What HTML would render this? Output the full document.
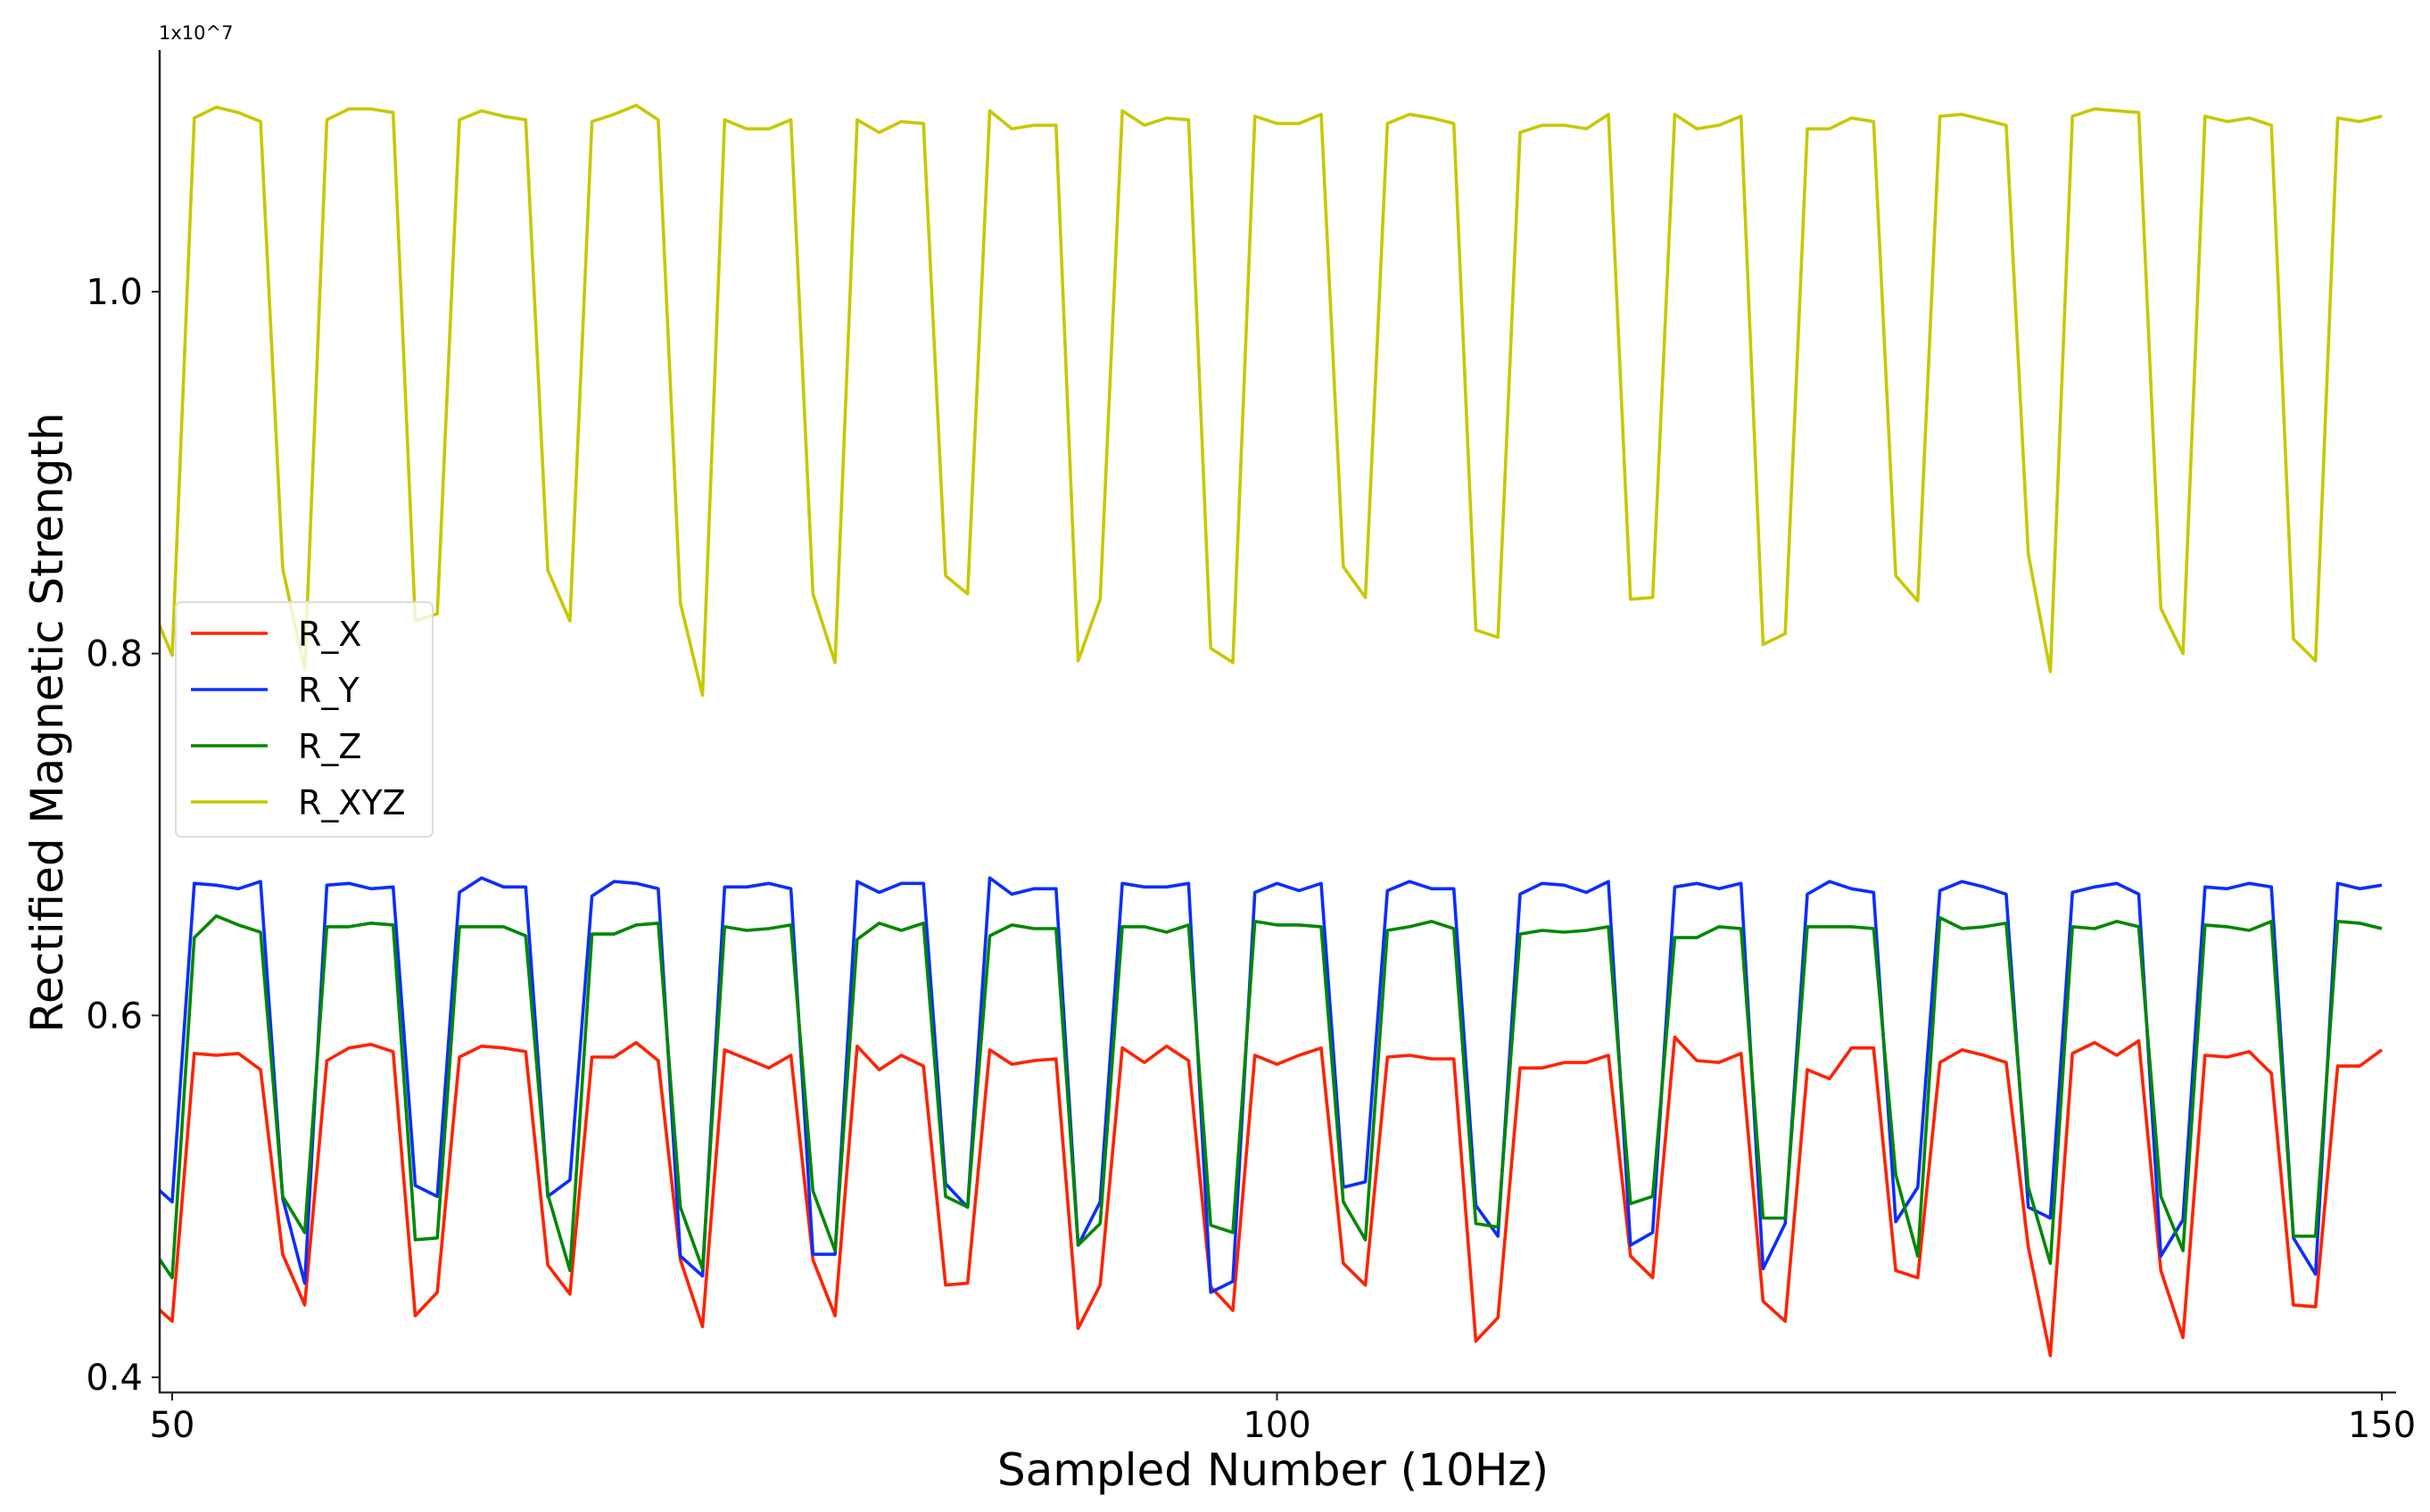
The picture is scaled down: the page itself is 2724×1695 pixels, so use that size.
<!DOCTYPE html>
<html><head><meta charset="utf-8"><style>
html,body{margin:0;padding:0;background:#fff;}
svg{display:block;font-family:"DejaVu Sans","Liberation Sans",sans-serif;}
</style></head><body>
<svg id="chart" width="2724" height="1695" viewBox="0 0 2724 1695" xmlns="http://www.w3.org/2000/svg">
<defs><clipPath id="plotclip"><rect x="180" y="40" width="2506" height="1520"/></clipPath></defs>
<g id="series" clip-path="url(#plotclip)"></g>
<g id="axes"></g>
<g id="legend"></g>
</svg>
<script>
const xStart = 49;
const seriesNames = ["R_X","R_Y","R_Z","R_XYZ"];
const xTicks = [50,100,150];
const yTicks = [0.4,0.6,0.8,1.0];
const yTickLabels = ["0.4","0.6","0.8","1.0"];
const rX = [0.442,0.431,0.579,0.578,0.579,0.570,0.468,0.440,0.575,0.582,0.584,0.580,0.434,0.447,0.577,0.583,0.582,0.580,0.462,0.446,0.577,0.577,0.585,0.575,0.465,0.428,0.581,0.576,0.571,0.578,0.465,0.434,0.583,0.570,0.578,0.572,0.451,0.452,0.581,0.573,0.575,0.576,0.427,0.451,0.582,0.574,0.583,0.575,0.450,0.437,0.578,0.573,0.578,0.582,0.463,0.451,0.577,0.578,0.576,0.576,0.420,0.433,0.571,0.571,0.574,0.574,0.578,0.467,0.455,0.588,0.575,0.574,0.579,0.442,0.431,0.570,0.565,0.582,0.582,0.459,0.455,0.574,0.581,0.578,0.574,0.472,0.412,0.579,0.585,0.578,0.586,0.459,0.422,0.578,0.577,0.580,0.568,0.440,0.439,0.572,0.572,0.581];
const rY = [0.508,0.497,0.673,0.672,0.670,0.674,0.499,0.452,0.672,0.673,0.670,0.671,0.506,0.500,0.668,0.676,0.671,0.671,0.500,0.509,0.666,0.674,0.673,0.670,0.467,0.456,0.671,0.671,0.673,0.670,0.468,0.468,0.674,0.668,0.673,0.673,0.507,0.494,0.676,0.667,0.670,0.670,0.473,0.497,0.673,0.671,0.671,0.673,0.447,0.453,0.668,0.673,0.669,0.673,0.505,0.508,0.669,0.674,0.670,0.670,0.495,0.478,0.667,0.673,0.672,0.668,0.674,0.473,0.480,0.671,0.673,0.670,0.673,0.460,0.485,0.667,0.674,0.670,0.668,0.486,0.505,0.669,0.674,0.671,0.667,0.494,0.488,0.668,0.671,0.673,0.667,0.467,0.487,0.671,0.670,0.673,0.671,0.477,0.457,0.673,0.670,0.672];
const rZ = [0.473,0.455,0.643,0.655,0.650,0.646,0.500,0.480,0.649,0.649,0.651,0.650,0.476,0.477,0.649,0.649,0.649,0.644,0.501,0.459,0.645,0.645,0.650,0.651,0.494,0.460,0.649,0.647,0.648,0.650,0.503,0.470,0.642,0.651,0.647,0.651,0.500,0.494,0.644,0.650,0.648,0.648,0.473,0.485,0.649,0.649,0.646,0.650,0.484,0.480,0.652,0.650,0.650,0.649,0.497,0.476,0.647,0.649,0.652,0.648,0.485,0.483,0.645,0.647,0.646,0.647,0.649,0.496,0.500,0.643,0.643,0.649,0.648,0.488,0.488,0.649,0.649,0.649,0.648,0.512,0.467,0.654,0.648,0.649,0.651,0.505,0.463,0.649,0.648,0.652,0.649,0.500,0.470,0.650,0.649,0.647,0.652,0.478,0.478,0.652,0.651,0.648];
const rXYZ = [0.828,0.799,1.096,1.102,1.099,1.094,0.847,0.791,1.095,1.101,1.101,1.099,0.818,0.822,1.095,1.100,1.097,1.095,0.846,0.818,1.094,1.098,1.103,1.095,0.828,0.777,1.095,1.090,1.090,1.095,0.833,0.795,1.095,1.088,1.094,1.093,0.843,0.833,1.100,1.090,1.092,1.092,0.796,0.830,1.100,1.092,1.096,1.095,0.803,0.795,1.097,1.093,1.093,1.098,0.848,0.831,1.093,1.098,1.096,1.093,0.813,0.809,1.088,1.092,1.092,1.090,1.098,0.830,0.831,1.098,1.090,1.092,1.097,0.805,0.811,1.090,1.090,1.096,1.094,0.843,0.829,1.097,1.098,1.095,1.092,0.855,0.790,1.097,1.101,1.100,1.099,0.825,0.800,1.097,1.094,1.096,1.092,0.808,0.796,1.096,1.094,1.097];

const NS="http://www.w3.org/2000/svg";
function xs(v){return 193 + (v-50)*(2670-193)/100;}
function ys(v){return 1544 - (v-0.4)*(1544-327)/0.6;}
function mk(tag,parent){const e=document.createElementNS(NS,tag);parent.appendChild(e);return e;}

const colors=["#ff2200","#0a2eff","#008800","#c8c800"];
const allSeries=[rX,rY,rZ,rXYZ];
const sg=document.getElementById('series');
allSeries.forEach((arr,si)=>{
  const p=mk('polyline',sg);
  
  
  p.setAttribute('points', arr.map((v,i)=>xs(xStart+i).toFixed(1)+','+ys(v).toFixed(1)).join(' '));
  p.setAttribute('fill','none');
  p.setAttribute('stroke',colors[si]);
  p.setAttribute('stroke-width','3.6');
  p.setAttribute('stroke-linejoin','round');
});

const ag=document.getElementById('axes');
let l=mk('line',ag);


l.setAttribute('x1',179);l.setAttribute('x2',179);l.setAttribute('y1',56);l.setAttribute('y2',1562);
l.setAttribute('stroke','#222');l.setAttribute('stroke-width','2.5');
l=mk('line',ag);


l.setAttribute('x1',178);l.setAttribute('x2',2686);l.setAttribute('y1',1561);l.setAttribute('y2',1561);
l.setAttribute('stroke','#333');l.setAttribute('stroke-width','2.5');
yTicks.forEach((v,i)=>{
  const t=mk('line',ag);
  
  
  t.setAttribute('x1',170);t.setAttribute('x2',179);t.setAttribute('y1',ys(v));t.setAttribute('y2',ys(v));
  t.setAttribute('stroke','#222');t.setAttribute('stroke-width','2');
  const tx=mk('text',ag);
  
  
  tx.setAttribute('x',160);tx.setAttribute('y',ys(v)+14);tx.setAttribute('text-anchor','end');
  tx.setAttribute('font-size','40');tx.textContent=yTickLabels[i];
});
xTicks.forEach(v=>{
  const t=mk('line',ag);
  
  
  t.setAttribute('x1',xs(v));t.setAttribute('x2',xs(v));t.setAttribute('y1',1561);t.setAttribute('y2',1570);
  t.setAttribute('stroke','#222');t.setAttribute('stroke-width','2');
  const tx=mk('text',ag);
  
  
  tx.setAttribute('x',xs(v));tx.setAttribute('y',1611);tx.setAttribute('text-anchor','middle');
  tx.setAttribute('font-size','40');tx.textContent=String(v);
});
let tt=mk('text',ag);


tt.setAttribute('x',178);tt.setAttribute('y',44);tt.setAttribute('font-size','21');tt.textContent='1x10^7';
tt=mk('text',ag);


tt.setAttribute('x',1427);tt.setAttribute('y',1665);tt.setAttribute('text-anchor','middle');tt.setAttribute('font-size','50');tt.textContent='Sampled Number (10Hz)';
tt=mk('text',ag);


tt.setAttribute('transform','translate(70,810) rotate(-90)');tt.setAttribute('text-anchor','middle');tt.setAttribute('font-size','50');tt.textContent='Rectified Magnetic Strength';

const lg=document.getElementById('legend');
const box=mk('rect',lg);


box.setAttribute('x',197);box.setAttribute('y',675);box.setAttribute('width',288);box.setAttribute('height',263);
box.setAttribute('rx',6);box.setAttribute('fill','rgba(255,255,255,0.8)');box.setAttribute('stroke','#ddd');box.setAttribute('stroke-width','2');
seriesNames.forEach((n,i)=>{
  const y=710+i*63;
  const ln=mk('line',lg);
  
  
  ln.setAttribute('x1',214);ln.setAttribute('x2',300);ln.setAttribute('y1',y);ln.setAttribute('y2',y);
  ln.setAttribute('stroke',colors[i]);ln.setAttribute('stroke-width','3.6');
  const tx=mk('text',lg);
  
  
  tx.setAttribute('x',334);tx.setAttribute('y',y+14);tx.setAttribute('font-size','38');tx.textContent=n;
});
</script>
</body></html>
